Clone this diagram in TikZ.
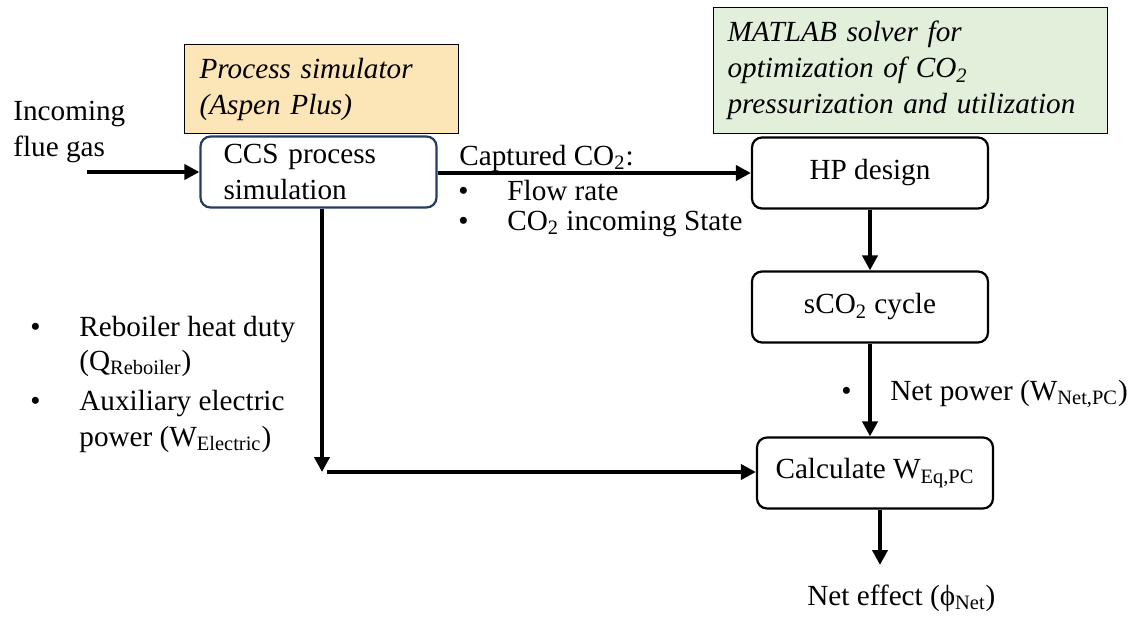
\documentclass[tikz,border=0pt]{standalone}
\usepackage{fontspec}
\setmainfont{Liberation Serif}
\usetikzlibrary{arrows.meta,positioning}

\definecolor{simorange}{RGB}{252,229,182}
\definecolor{solvergreen}{RGB}{226,239,218}
\definecolor{ccsblue}{RGB}{38,60,100}

\tikzset{
  block/.style={draw, rounded corners=5pt, line width=1.1pt, minimum width=118pt, minimum height=35.5pt, align=center},
  tool/.style={draw, line width=0.6pt, align=left, anchor=north west, inner ysep=0pt, font=\fontsize{14.6}{18}\selectfont\itshape},
  flow/.style={->, line width=2.2pt},
  lbl/.style={anchor=base west, inner sep=0pt, align=left},
}

\begin{document}
\begin{tikzpicture}[x=0.5pt, y=-0.5pt, font=\fontsize{14.6}{18}\selectfont, >={Triangle[length=7.5pt,width=7.5pt]}]
\useasboundingbox (0,0) rectangle (1134,617);

%boxes
\node [tool, fill=simorange, text width=122pt, inner xsep=7.5pt, minimum height=44.5pt] (aspen) at (184,44) {Process simulator\\(Aspen Plus)};
\node [tool, fill=solvergreen, text width=183pt, inner xsep=7pt, minimum height=63pt] (matlab) at (713,7) {MATLAB solver for\\optimization of CO\textsubscript{2}\\pressurization and utilization};

\node [block, draw=ccsblue, text width=95pt, inner xsep=11.5pt, align=left] (ccs) at (318.5,172) {CCS process\\simulation};
\node [block] (hp) at (870,173) {HP design};
\node [block] (sco2) at (870,307) {sCO\textsubscript{2} cycle};
\node [block] (calc) at (875,473) {Calculate W\textsubscript{Eq,PC}};

%texts
\node [lbl] (flue) at (13,156) {Incoming\\flue gas};
\coordinate (gasin) at (87,172);
\node [lbl] (capt) at (459,165) {Captured CO\textsubscript{2}:};
\node [lbl] (bflow) at (458,200) {•};
\node [lbl] (flow) at (507,200) {Flow rate};
\node [lbl] (bstate) at (458,230) {•};
\node [lbl] (state) at (507,230) {CO\textsubscript{2} incoming State};

\node [lbl] (breb) at (30,336) {•};
\node [lbl] (reb) at (79,336) {Reboiler heat duty};
\node [lbl] (qreb) at (79,370) {(Q\textsubscript{Reboiler})};
\node [lbl] (baux) at (30,410) {•};
\node [lbl] (aux) at (79,410) {Auxiliary electric};
\node [lbl] (welec) at (79,446) {power (W\textsubscript{Electric})};

\node [lbl] (bnet) at (841,400) {•};
\node [lbl] (wnet) at (890,400) {Net power (W\textsubscript{Net,PC})};
\node [lbl] (phi) at (807,605) {Net effect (ϕ\textsubscript{Net})};
\coordinate (phitop) at (880,565);
\coordinate (merge) at (322,472);

%lines
\draw [flow] (gasin) -- (gasin -| ccs.west);
\draw [flow] (ccs.east |- hp) -- (hp.west);
\draw [flow] (hp) -- (sco2);
\draw [flow] (sco2.south) -- (sco2.south |- calc.north);
\draw [flow] (ccs.south -| merge) -- (merge);
\draw [flow] ([xshift=2.5pt]merge) -- (calc.west |- merge);
\draw [flow] (calc.south -| phitop) -- (phitop);

\end{tikzpicture}
\end{document}
